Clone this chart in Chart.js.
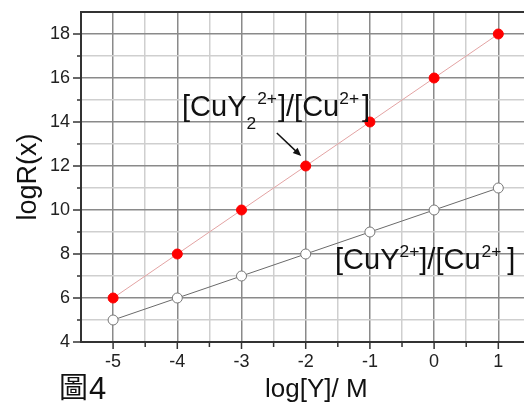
<!DOCTYPE html>
<html>
<head>
<meta charset="utf-8">
<script src="https://cdn.jsdelivr.net/npm/chart.js@4.4.0/dist/chart.umd.min.js"></script>
<style>
html, body { margin: 0; padding: 0; background: #fff; overflow: hidden; }
canvas { display: block; }
</style>
</head>
<body>
<canvas id="grafico" width="524" height="402"></canvas>
<script>
// dados
const logY = [-5, -4, -3, -2, -1, 0, 1];
const razaoCuY2 = [6, 8, 10, 12, 14, 16, 18];   // [CuY2 2+]/[Cu 2+]
const razaoCuY = [5, 6, 7, 8, 9, 10, 11];       // [CuY 2+]/[Cu 2+]
const ticksX = [-5.5, -5, -4.5, -4, -3.5, -3, -2.5, -2, -1.5, -1, -0.5, 0, 0.5, 1];
const ticksY = [4, 5, 6, 7, 8, 9, 10, 11, 12, 13, 14, 15, 16, 17, 18, 19];

const FONTE = 'Arial, "Liberation Sans", sans-serif';

// x é "principal" nos inteiros, y nos pares
function principalX(v) { return Math.abs(v - Math.round(v)) < 1e-6; }
function principalY(v) { return Math.round(v) % 2 === 0; }

// escreve texto com sobrescritos / subscritos
function textoRico(ctx, x, y, partes, tam) {
    let px = x;
    partes.forEach(p => {
        let t = tam, dy = 0;
        if (p[1] === 's') { t = tam * 0.6; dy = -tam * 0.42; }
        if (p[1] === 'b') { t = tam * 0.6; dy = tam * 0.45; }
        ctx.font = t + 'px ' + FONTE;
        ctx.fillText(p[0], px, y + dy);
        px += ctx.measureText(p[0]).width + (p[2] || 0);
    });
}

const extras = {
    id: 'extras',
    afterDraw(chart) {
        const ctx = chart.ctx;
        const sx = chart.scales.x, sy = chart.scales.y;
        const area = chart.chartArea;
        ctx.save();

        // moldura superior
        ctx.strokeStyle = '#333';
        ctx.lineWidth = 2;
        ctx.beginPath();
        ctx.moveTo(area.left, area.top);
        ctx.lineTo(area.right, area.top);
        ctx.stroke();

        // marcas dos eixos
        ctx.lineWidth = 1.5;
        ticksX.forEach(v => {
            if (v <= sx.min) return;
            const p = sx.getPixelForValue(v);
            const len = principalX(v) ? 7 : 5;
            ctx.beginPath();
            ctx.moveTo(p, area.bottom);
            ctx.lineTo(p, area.bottom + len);
            ctx.stroke();
        });
        ticksY.forEach(v => {
            if (v >= sy.max) return;
            const p = sy.getPixelForValue(v);
            const len = principalY(v) ? 8 : 4;
            ctx.beginPath();
            ctx.moveTo(area.left, p);
            ctx.lineTo(area.left - len, p);
            ctx.stroke();
        });

        ctx.fillStyle = '#111';
        ctx.textBaseline = 'alphabetic';
        ctx.textAlign = 'left';

        // rótulos das séries
        textoRico(ctx, 182, 116, [['[CuY'], ['2', 'b', 1], ['2+', 's', 1], [']/[Cu'], ['2+', 's', 3], [']']], 29);
        textoRico(ctx, 335, 269, [['[CuY'], ['2+', 's'], [']/[Cu', 'n', 1], ['2+', 's', 6], [']']], 29);

        // seta
        const x0 = sx.getPixelForValue(-2.45), y0 = sy.getPixelForValue(13.5);
        const x1 = sx.getPixelForValue(-2.07), y1 = sy.getPixelForValue(12.45);
        const ang = Math.atan2(y1 - y0, x1 - x0);
        ctx.strokeStyle = '#111';
        ctx.lineWidth = 1.5;
        ctx.beginPath();
        ctx.moveTo(x0, y0);
        ctx.lineTo(x1 - 4 * Math.cos(ang), y1 - 4 * Math.sin(ang));
        ctx.stroke();
        ctx.beginPath();
        ctx.moveTo(x1, y1);
        ctx.lineTo(x1 - 9 * Math.cos(ang - 0.4), y1 - 9 * Math.sin(ang - 0.4));
        ctx.lineTo(x1 - 9 * Math.cos(ang + 0.4), y1 - 9 * Math.sin(ang + 0.4));
        ctx.closePath();
        ctx.fill();

        // títulos dos eixos
        ctx.font = '26px ' + FONTE;
        ctx.fillText('log[Y]/ M', 265, 397);
        ctx.save();
        ctx.translate(29, (area.top + area.bottom) / 2);
        ctx.rotate(-Math.PI / 2);
        ctx.textAlign = 'center';
        ctx.textBaseline = 'middle';
        ctx.font = '27px ' + FONTE;
        ctx.fillText('logR(x)', 0, 0);
        ctx.restore();

        // legenda da figura
        ctx.font = '29px "Noto Sans CJK TC", serif';
        ctx.fillText('圖', 59, 398);
        ctx.font = '31px ' + FONTE;
        ctx.fillText('4', 89, 399);

        ctx.restore();
    }
};

new Chart(document.getElementById('grafico'), {
    type: 'line',
    data: {
        datasets: [{
            label: '[CuY2 2+]/[Cu 2+]',
            data: logY.map((x, i) => ({ x: x, y: razaoCuY2[i] })),
            borderColor: '#e3a3a3',
            borderWidth: 1,
            pointRadius: 5,
            pointBackgroundColor: '#ff0000',
            pointBorderColor: '#ff0000',
            pointBorderWidth: 1
        }, {
            label: '[CuY 2+]/[Cu 2+]',
            data: logY.map((x, i) => ({ x: x, y: razaoCuY[i] })),
            borderColor: '#6a6a6a',
            borderWidth: 1,
            pointRadius: 5,
            pointBackgroundColor: '#ffffff',
            pointBorderColor: '#777',
            pointBorderWidth: 1
        }]
    },
    options: {
        responsive: false,
        animation: false,
        layout: { autoPadding: false, padding: { top: 12, right: 0, left: 0, bottom: 0 } },
        plugins: { legend: { display: false }, tooltip: { enabled: false } },
        scales: {
            x: {
                type: 'linear',
                min: -5.5,
                max: 1.4,
                afterBuildTicks: s => { s.ticks = ticksX.map(v => ({ value: v })); },
                afterFit: s => { s.height = 60; s.paddingLeft = 0; s.paddingRight = 0; },
                border: { display: true, color: '#333', width: 2 },
                grid: {
                    drawTicks: false,
                    lineWidth: 1.5,
                    color: c => principalX(c.tick.value) ? '#8a8a8a' : '#cfcfcf'
                },
                ticks: {
                    padding: 9,
                    color: '#222',
                    font: { family: FONTE, size: 18 },
                    maxRotation: 0,
                    autoSkip: false,
                    callback: v => principalX(v) ? String(Math.round(v)) : ''
                }
            },
            y: {
                type: 'linear',
                min: 4,
                max: 19,
                afterBuildTicks: s => { s.ticks = ticksY.map(v => ({ value: v })); },
                afterFit: s => { s.width = 81; s.paddingTop = 0; s.paddingBottom = 0; },
                border: { display: true, color: '#333', width: 2 },
                grid: {
                    drawTicks: false,
                    lineWidth: 1.5,
                    color: c => principalY(c.tick.value) ? '#8a8a8a' : '#cfcfcf'
                },
                ticks: {
                    padding: 11,
                    color: '#222',
                    font: { family: FONTE, size: 18 },
                    autoSkip: false,
                    callback: v => (principalY(v) && v < 19) ? String(v) : ''
                }
            }
        }
    },
    plugins: [extras]
});
</script>
</body>
</html>
